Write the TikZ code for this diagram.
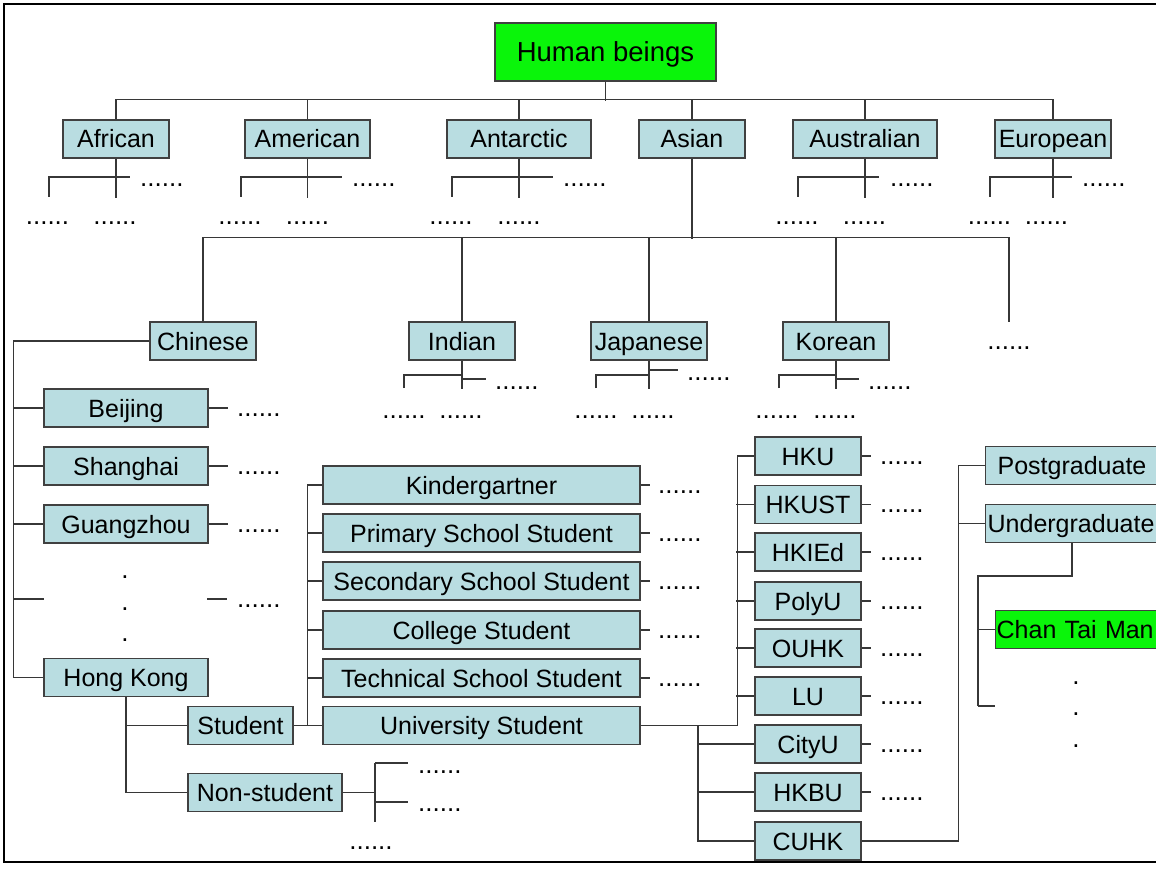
\documentclass[tikz,border=0pt]{standalone}
\usepackage{fontspec}
\setmainfont{Liberation Sans}
\definecolor{boxfill}{RGB}{185,221,225}
\definecolor{boxline}{RGB}{64,64,64}
\definecolor{linecol}{RGB}{55,55,55}
\definecolor{hlgreen}{RGB}{10,245,10}
\tikzset{
  box/.style={draw=boxline, fill=boxfill, line width=1.3pt, inner sep=0pt, minimum height=38pt,
    font=\fontsize{25}{30}\selectfont, text height=23pt, text depth=5pt},
  conn/.style={draw=linecol, line width=1.3pt},
  dots/.style={inner sep=0pt, font=\fontsize{26}{30}\selectfont, anchor=base},
}
\begin{document}
\begin{tikzpicture}[x=1pt,y=-1pt]
\clip (0,0) rectangle (1156,869);
\fill[white] (0,0) rectangle (1156,869);
\draw[black,line width=2.5pt] (1170,4) -- (4,4) -- (4,862) -- (1170,862);

% root
\node[box, fill=hlgreen, minimum width=221pt, minimum height=58pt,
  font=\fontsize{27.5}{32}\selectfont, text height=25pt, text depth=5pt] (hb) at (605.5,52) {Human beings};

% level 1
\foreach \n/\c/\w/\t in {afr/116/106/African, ame/307.5/125/American, ant/519/144/Antarctic,
  asi/692/106/Asian, aus/865/144/Australian, eur/1053/116/European}
  \node[box, minimum width=\w pt] (\n) at (\c,139) {\t};
\draw[conn] (hb.south) -- ++(0,19);
\draw[conn] (afr.north) -- ++(0,-20) -| (eur.north);
\foreach \n in {ame,ant,asi,aus} \draw[conn] (\n.north) -- ++(0,-20);

% level 1 subtrees
\foreach \n/\L/\R/\D/\a/\b in {afr/49/130/140/47.5/115, ame/241/342/352/240/307.5,
  ant/452/553/563/451/519, aus/798/879/890/797/864.5, eur/990/1072/1082/989.5/1046.5} {
  \coordinate (\n L) at (\L,197);
  \coordinate (\n R) at (\R,177);
  \draw[conn] (\n.south) -- ++(0,39);
  \draw[conn] (\n L) |- (\n R);
  \node[dots, anchor=base west] (\n d0) at (\D,186) {......};
  \node[dots] (\n d1) at (\a,224) {......};
  \node[dots] (\n d2) at (\b,224) {......};
}

% Asian
\node[box, minimum width=106pt] (chi) at (203,341) {Chinese};
\node[box, minimum width=106pt] (ind) at (462,341) {Indian};
\node[box, minimum width=116pt] (jap) at (649,341) {Japanese};
\node[box, minimum width=106pt] (kor) at (836,341) {Korean};
\coordinate (asiE) at (1009,322);
\draw[conn] (asi.south) -- ++(0,80);
\draw[conn] (chi.north) -- ++(0,-84) -| (asiE);
\foreach \n in {ind,jap,kor} \draw[conn] (\n.north) -- ++(0,-84);
\node[dots] (asid) at (1009,349) {......};

\foreach \n/\L/\sy/\sl/\dy/\a/\b in {ind/404/379/24/389/404/461, jap/596/370/29/380/596/653,
  kor/779/379/23/389/777/835} {
  \draw[conn] (\n.south) -- ++(0,28);
  \coordinate (\n L) at (\L,388);
  \coordinate (\n M) at (\n.south |- 0,375);
  \draw[conn] (\n L) |- (\n M);
  \coordinate (\n S) at (\n.south |- 0,\sy);
  \draw[conn] (\n S) -- ++(\sl,0) coordinate (\n T);
  \node[dots, anchor=base west] (\n d0) at ([xshift=9pt]\n T |- 0,\dy) {......};
  \node[dots] (\n d1) at (\a,418) {......};
  \node[dots] (\n d2) at (\b,418) {......};
}

% Chinese
\foreach \n/\y/\t in {bei/408/Beijing, sha/466/Shanghai, gua/524/Guangzhou, hk/677.5/Hong Kong}
  \node[box, minimum width=164pt] (\n) at (126,\y) {\t};
\draw[conn] (chi.west) -- ++(-136,0) |- (hk.west);
\foreach \n/\y in {bei/408, sha/466, gua/524} {
  \draw[conn] (\n.west) -- ++(-30,0);
  \draw[conn] (\n.east) -- ++(19,0);
  \node[dots, anchor=base west] (\n d) at (237,\y+8) {......};
}
\coordinate (blkL) at (14,599);
\coordinate (blkR) at (207,599);
\draw[conn] (blkL) -- ++(30,0);
\draw[conn] (blkR) -- ++(20,0);
\node[dots, anchor=base west] (blkd) at (237,607) {......};
\node[dots] (vd1) at (125,578) {.};
\node[dots] (vd2) at (125,610) {.};
\node[dots] (vd3) at (125,641) {.};

% Hong Kong
\node[box, minimum width=105pt] (stu) at (240.5,725.5) {Student};
\node[box, minimum width=154pt] (non) at (265,792.5) {Non-student};
\draw[conn] (hk.south) |- (non.west);
\draw[conn] (stu.west) -- (stu.west -| hk.south);
\draw[conn] (non.east) -- ++(33,0);
\coordinate (ns1) at (375,763);
\coordinate (ns2) at (375,822);
\coordinate (nsb) at (375,802);
\draw[conn] (ns1) -- (ns2);
\draw[conn] (ns1) -- ++(33,0);
\draw[conn] (nsb) -- ++(33,0);
\node[dots, anchor=base west] (nsd1) at (418,773) {......};
\node[dots, anchor=base west] (nsd2) at (418,811) {......};
\node[dots] (nsd3) at (371,849) {......};

% Student kinds
\foreach \n/\y/\t in {kin/485/Kindergartner, pri/533/Primary School Student, sec/581/Secondary School Student,
  col/630/College Student, tec/678/Technical School Student, usb/725.5/University Student}
  \node[box, minimum width=317pt] (\n) at (481.5,\y) {\t};
\draw[conn] (stu.east) -- (usb.west);
\draw[conn] (kin.west) -- ++(-15,0) |- (usb.west);
\foreach \n in {pri,sec,col,tec} \draw[conn] (\n.west) -- ++(-15,0);
\foreach \n/\y in {kin/485, pri/533, sec/581, col/630, tec/678} {
  \draw[conn] (\n.east) -- ++(9,0);
  \node[dots, anchor=base west] (\n d) at (658,\y+8) {......};
}

% Universities
\foreach \n/\y/\t in {hku/456/HKU, hkust/504.5/HKUST, hkied/552/HKIEd, poly/601/PolyU, ouhk/648/OUHK,
  lu/696/LU, city/744/CityU, hkbu/792/HKBU, cuhk/841/CUHK}
  \node[box, minimum width=106pt] (\n) at (808,\y) {\t};
\draw[conn] (usb.east) -- ++(97,0) |- (hku.west);
\foreach \n in {hkust,hkied,poly,ouhk,lu} \draw[conn] (\n.west) -- ++(-18,0);
\coordinate (ub) at (698,725.5);
\draw[conn] (ub) |- (cuhk.west);
\foreach \n in {city,hkbu} \draw[conn] (\n.west) -- ++(-57,0);
\foreach \n/\y in {hku/456, hkust/504.5, hkied/552, poly/601, ouhk/648, lu/696, city/744, hkbu/792} {
  \draw[conn] (\n.east) -- ++(9,0);
  \node[dots, anchor=base west] (\n d) at (880,\y+8) {......};
}

% CUHK
\node[box, anchor=west, text width=185pt, align=left, inner xsep=12pt] (pg) at (985,465.5) {Postgraduate};
\node[box, anchor=west, text width=200pt, align=left, inner xsep=2pt] (ug) at (985,523.5) {Undergraduate};
\node[box, fill=hlgreen, anchor=west, text width=200pt, align=left, inner xsep=1pt] (ctm) at (995,629.5) {Chan Tai Man};
\draw[conn] (cuhk.east) -- ++(97,0) |- (pg.west);
\draw[conn] (ug.west) -- ++(-27,0);
\coordinate (ugs) at (1072,543);
\coordinate (ugE) at (978,706);
\draw[conn] (ugs) -- ++(0,33) -| (ugE);
\draw[conn] (ugE) -- ++(17,0);
\draw[conn] (ctm.west) -- ++(-17,0);
\node[dots] (cd1) at (1076,684) {.};
\node[dots] (cd2) at (1076,715) {.};
\node[dots] (cd3) at (1076,747) {.};
\end{tikzpicture}
\end{document}
